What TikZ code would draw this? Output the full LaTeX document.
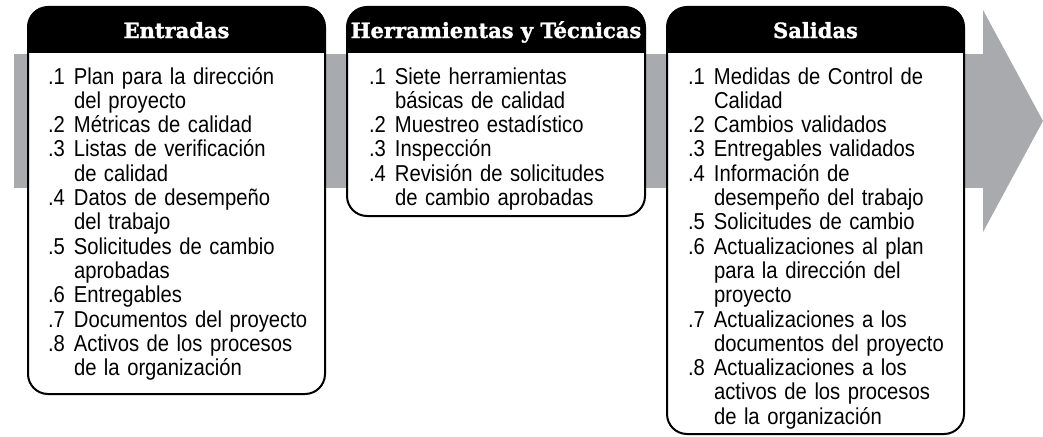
\documentclass[tikz,border=0pt]{standalone}
\usepackage{fontspec}
\setmainfont[FakeStretch=0.88]{Liberation Sans}
\newfontfamily\headfont[BoldFeatures={FakeBold=1.5}]{DejaVu Serif}
\definecolor{flecha}{RGB}{168,170,173}
% item con numero colgado
\newcommand{\itm}[2]{\hangindent=26pt\hangafter=1\noindent\makebox[26pt][l]{#1}#2\par}
\newcommand{\letralista}{\fontsize{23}{24.3}\selectfont\spaceskip=7.5pt plus 2pt minus 1pt\relax}

\begin{document}
\begin{tikzpicture}[x=1pt, y=-1pt, line width=2pt, line join=round,
  cabecera/.style={text=white, anchor=base, inner sep=0pt, font=\headfont\bfseries\fontsize{21}{24}\selectfont},
  lista/.style={anchor=base west, inner sep=0pt, text width=280pt, align=left}]

  %% ==== flecha gris de fondo ====
  \fill[flecha] (14,54) rectangle (984,188);
  \fill[flecha] (983,10) -- (1043,121) -- (983,232) -- cycle;

  %% ==== cajas: fondo blanco, cabecera negra, borde ====
  \foreach \xa/\xb/\yb in {28/325/394, 347/645/216, 667/964/434} {
    \fill[white, rounded corners=20pt] (\xa,7) rectangle (\xb,\yb);
    \begin{scope}
      \clip[rounded corners=20pt] (\xa,7) rectangle (\xb,\yb);
      \fill (\xa,7) rectangle (\xb,53);
    \end{scope}
    \draw[rounded corners=20pt] (\xa,7) rectangle (\xb,\yb);
  }

  %% ==== titulos ====
  \node[cabecera] (tEntradas) at (176.5,38) {Entradas};
  \node[cabecera] (tHerr) at (496,38) {Herramientas y Técnicas};
  \node[cabecera] (tSalidas) at (815.5,38) {Salidas};

  %% ==== listas ====
  \node[lista] (entradas) at (47,84) {\letralista
    \itm{.1}{Plan para la dirección\newline del proyecto}
    \itm{.2}{Métricas de calidad}
    \itm{.3}{Listas de verificación\newline de calidad}
    \itm{.4}{Datos de desempeño\newline del trabajo}
    \itm{.5}{Solicitudes de cambio\newline aprobadas}
    \itm{.6}{Entregables}
    \itm{.7}{Documentos del proyecto}
    \itm{.8}{Activos de los procesos\newline de la organización}};

  \node[lista] (herr) at (368,84) {\letralista
    \itm{.1}{Siete herramientas\newline básicas de calidad}
    \itm{.2}{Muestreo estadístico}
    \itm{.3}{Inspección}
    \itm{.4}{Revisión de solicitudes\newline de cambio aprobadas}};

  \node[lista] (salidas) at (687,84) {\letralista
    \itm{.1}{Medidas de Control de\newline Calidad}
    \itm{.2}{Cambios validados}
    \itm{.3}{Entregables validados}
    \itm{.4}{Información de\newline desempeño del trabajo}
    \itm{.5}{Solicitudes de cambio}
    \itm{.6}{Actualizaciones al plan\newline para la dirección del\newline proyecto}
    \itm{.7}{Actualizaciones a los\newline documentos del proyecto}
    \itm{.8}{Actualizaciones a los\newline activos de los procesos\newline de la organización}};

  % lienzo fijo
  \pgfresetboundingbox
  \path[use as bounding box] (0,0) rectangle (1043,436);
\end{tikzpicture}
\end{document}
